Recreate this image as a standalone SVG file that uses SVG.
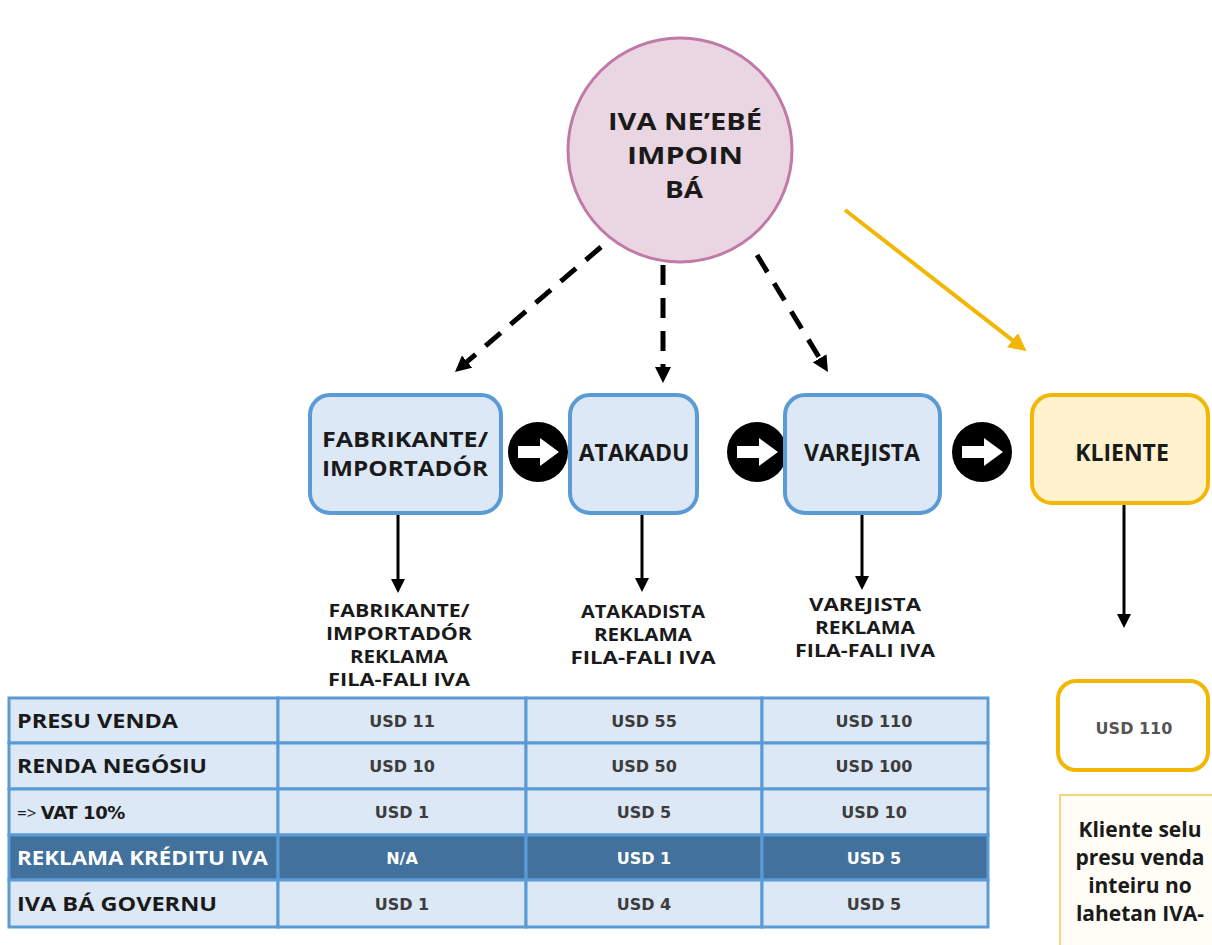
<svg xmlns="http://www.w3.org/2000/svg" width="1212" height="945" viewBox="0 0 1212 945">
<style>
.lbl{font-family:"Open Sans","Liberation Sans",sans-serif;font-weight:700;fill:#1a1a1a}
.sub{font-family:"Open Sans","Liberation Sans",sans-serif;font-weight:700;fill:#1a1a1a;font-size:17px;text-anchor:middle}
.val{font-family:"DejaVu Sans","Liberation Sans",sans-serif;font-weight:700;fill:#3c3c3c;font-size:16px;text-anchor:middle}
.box{fill:#dce8f5;stroke:#5b9bd5;stroke-width:4}
.ybox{fill:#fff2cc;stroke:#f2b705;stroke-width:4}
.cell{fill:#dce8f5;stroke:#5b9bd5;stroke-width:3}
.dark{fill:#41719c;stroke:#5b9bd5;stroke-width:3}
.dash{stroke:#000;stroke-width:5;stroke-dasharray:20 13;fill:none}
.solid{stroke:#000;stroke-width:3;fill:none}
</style>
<defs>
<marker id="ah" markerWidth="16" markerHeight="16" refX="2" refY="8" orient="auto" markerUnits="userSpaceOnUse"><path d="M0,0 L16,8 L0,16 z" fill="#000"/></marker>
<marker id="ahs" markerWidth="14" markerHeight="14" refX="2" refY="7" orient="auto" markerUnits="userSpaceOnUse"><path d="M0,0 L14,7 L0,14 z" fill="#000"/></marker>
<marker id="ahy" markerWidth="18" markerHeight="18" refX="2" refY="9" orient="auto" markerUnits="userSpaceOnUse"><path d="M0,0 L18,9 L0,18 z" fill="#f2b705"/></marker>
<g id="carrow"><circle r="30" fill="#000"/><polygon points="-20,-6 2,-6 2,-14 21,0 2,14 2,6 -20,6" fill="#fff"/></g>
</defs>
<rect width="1212" height="945" fill="#fff"/>

<g id="connectors">
<line class="dash" x1="601" y1="247" x2="465.6" y2="362.9" marker-end="url(#ah)"/>
<line class="dash" x1="663" y1="265" x2="663" y2="369" marker-end="url(#ah)"/>
<line class="dash" x1="757" y1="255" x2="820.7" y2="360" marker-end="url(#ah)"/>
<line x1="845" y1="210" x2="1014" y2="341.4" stroke="#f2b705" stroke-width="4" marker-end="url(#ahy)"/>
<line class="solid" x1="398" y1="515" x2="398" y2="581" marker-end="url(#ahs)"/>
<line class="solid" x1="642" y1="515" x2="642" y2="580" marker-end="url(#ahs)"/>
<line class="solid" x1="862" y1="515" x2="862" y2="578" marker-end="url(#ahs)"/>
<line class="solid" x1="1124" y1="505" x2="1124" y2="616" marker-end="url(#ahs)"/>
<use href="#carrow" x="538" y="452"/>
<use href="#carrow" x="757" y="452"/>
<use href="#carrow" x="982" y="452"/>
</g>

<g id="iva">
<circle cx="680" cy="150" r="112" fill="#ead6e3" stroke="#c17aa5" stroke-width="3"/>
<text class="lbl" font-size="24" text-anchor="middle" x="685" y="130" textLength="154" lengthAdjust="spacingAndGlyphs">IVA NE’EBÉ</text>
<text class="lbl" font-size="24" text-anchor="middle" x="685" y="164" textLength="116" lengthAdjust="spacingAndGlyphs">IMPOIN</text>
<text class="lbl" font-size="24" text-anchor="middle" x="684" y="198" textLength="38" lengthAdjust="spacingAndGlyphs">BÁ</text>
</g>

<g id="fabrikante">
<rect class="box" x="310" y="395" width="191" height="118" rx="20"/>
<text class="lbl" font-size="21" text-anchor="middle" x="405" y="447" textLength="166" lengthAdjust="spacingAndGlyphs">FABRIKANTE/</text>
<text class="lbl" font-size="21" text-anchor="middle" x="405" y="476" textLength="166" lengthAdjust="spacingAndGlyphs">IMPORTADÓR</text>
</g>
<g id="atakadu">
<rect class="box" x="570" y="395" width="127" height="118" rx="20"/>
<text class="lbl" font-size="23" text-anchor="middle" x="634" y="461">ATAKADU</text>
</g>
<g id="varejista">
<rect class="box" x="785" y="395" width="155" height="118" rx="20"/>
<text class="lbl" font-size="23" text-anchor="middle" x="862" y="461">VAREJISTA</text>
</g>
<g id="kliente">
<rect class="ybox" x="1032" y="395" width="176" height="108" rx="20"/>
<text class="lbl" font-size="23" text-anchor="middle" x="1122" y="461">KLIENTE</text>
</g>

<g id="lbl-fabrikante">
<text class="sub" x="399" y="617" textLength="141" lengthAdjust="spacingAndGlyphs">FABRIKANTE/</text>
<text class="sub" x="399" y="640" textLength="146" lengthAdjust="spacingAndGlyphs">IMPORTADÓR</text>
<text class="sub" x="399" y="663" textLength="98" lengthAdjust="spacingAndGlyphs">REKLAMA</text>
<text class="sub" x="399" y="686" textLength="142" lengthAdjust="spacingAndGlyphs">FILA-FALI IVA</text>
</g>
<g id="lbl-atakadista">
<text class="sub" x="643" y="618" textLength="124" lengthAdjust="spacingAndGlyphs">ATAKADISTA</text>
<text class="sub" x="643" y="641" textLength="98" lengthAdjust="spacingAndGlyphs">REKLAMA</text>
<text class="sub" x="643" y="664" textLength="145" lengthAdjust="spacingAndGlyphs">FILA-FALI IVA</text>
</g>
<g id="lbl-varejista">
<text class="sub" x="865" y="611" textLength="112" lengthAdjust="spacingAndGlyphs">VAREJISTA</text>
<text class="sub" x="865" y="634" textLength="100" lengthAdjust="spacingAndGlyphs">REKLAMA</text>
<text class="sub" x="865" y="657" textLength="140" lengthAdjust="spacingAndGlyphs">FILA-FALI IVA</text>
</g>

<g id="table">
<rect class="cell" x="9" y="698" width="269" height="45"/>
<rect class="cell" x="278" y="698" width="248" height="45"/>
<rect class="cell" x="526" y="698" width="236" height="45"/>
<rect class="cell" x="762" y="698" width="226" height="45"/>
<rect class="cell" x="9" y="743" width="269" height="46"/>
<rect class="cell" x="278" y="743" width="248" height="46"/>
<rect class="cell" x="526" y="743" width="236" height="46"/>
<rect class="cell" x="762" y="743" width="226" height="46"/>
<rect class="cell" x="9" y="789" width="269" height="46"/>
<rect class="cell" x="278" y="789" width="248" height="46"/>
<rect class="cell" x="526" y="789" width="236" height="46"/>
<rect class="cell" x="762" y="789" width="226" height="46"/>
<rect class="dark" x="9" y="835" width="269" height="45"/>
<rect class="dark" x="278" y="835" width="248" height="45"/>
<rect class="dark" x="526" y="835" width="236" height="45"/>
<rect class="dark" x="762" y="835" width="226" height="45"/>
<rect class="cell" x="9" y="880" width="269" height="47"/>
<rect class="cell" x="278" y="880" width="248" height="47"/>
<rect class="cell" x="526" y="880" width="236" height="47"/>
<rect class="cell" x="762" y="880" width="226" height="47"/>

<text class="lbl" font-size="20" x="17" y="728" textLength="161" lengthAdjust="spacingAndGlyphs">PRESU VENDA</text>
<text class="lbl" font-size="20" x="17" y="773" textLength="190" lengthAdjust="spacingAndGlyphs">RENDA NEGÓSIU</text>
<text class="lbl" x="17" y="819"><tspan font-size="17" font-weight="400">=&gt; </tspan><tspan font-family="DejaVu Sans,sans-serif" font-size="18" letter-spacing="-0.4">VAT 10%</tspan></text>
<text class="lbl" font-size="20" x="17" y="865" style="fill:#fff" textLength="251" lengthAdjust="spacingAndGlyphs">REKLAMA KRÉDITU IVA</text>
<text class="lbl" font-size="20" x="17" y="911" textLength="200" lengthAdjust="spacingAndGlyphs">IVA BÁ GOVERNU</text>

<text class="val" x="402" y="727">USD 11</text>
<text class="val" x="644" y="727">USD 55</text>
<text class="val" x="874" y="727">USD 110</text>
<text class="val" x="402" y="772">USD 10</text>
<text class="val" x="644" y="772">USD 50</text>
<text class="val" x="874" y="772">USD 100</text>
<text class="val" x="402" y="818">USD 1</text>
<text class="val" x="644" y="818">USD 5</text>
<text class="val" x="874" y="818">USD 10</text>
<text class="val" x="402" y="864" style="fill:#fff">N/A</text>
<text class="val" x="644" y="864" style="fill:#fff">USD 1</text>
<text class="val" x="874" y="864" style="fill:#fff">USD 5</text>
<text class="val" x="402" y="910">USD 1</text>
<text class="val" x="644" y="910">USD 4</text>
<text class="val" x="874" y="910">USD 5</text>
</g>

<g id="usd110">
<rect x="1058" y="681" width="150" height="89" rx="18" fill="#fff" stroke="#f2b705" stroke-width="4"/>
<text class="val" x="1134" y="734" style="fill:#555">USD 110</text>
</g>

<g id="kliente-note">
<rect x="1060" y="795" width="160" height="160" fill="#fffdf5" stroke="#f5d77a" stroke-width="2"/>
<text class="lbl" font-size="21" text-anchor="middle" x="1140" y="837">Kliente selu</text>
<text class="lbl" font-size="21" text-anchor="middle" x="1140" y="865">presu venda</text>
<text class="lbl" font-size="21" text-anchor="middle" x="1140" y="893">inteiru no</text>
<text class="lbl" font-size="21" text-anchor="middle" x="1140" y="921">lahetan IVA-</text>
</g>
</svg>
